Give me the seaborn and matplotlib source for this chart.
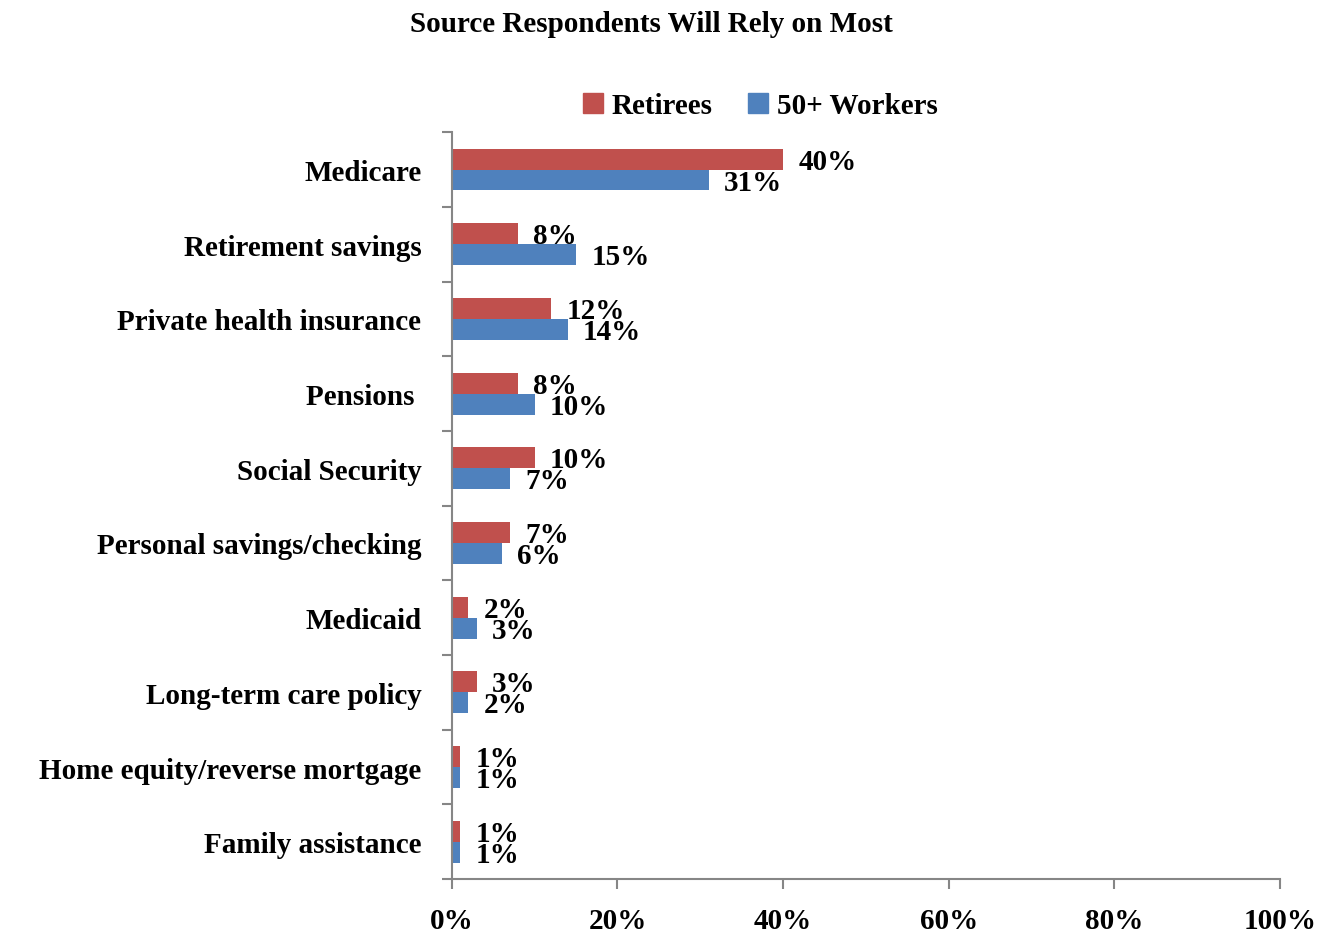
import matplotlib
matplotlib.use("Agg")
import matplotlib.pyplot as plt
import seaborn as sns
import pandas as pd
import numpy as np

categories = [
    "Medicare",
    "Retirement savings",
    "Private health insurance",
    "Pensions ",
    "Social Security",
    "Personal savings/checking",
    "Medicaid",
    "Long-term care policy",
    "Home equity/reverse mortgage",
    "Family assistance",
]
retirees = [40, 8, 12, 8, 10, 7, 2, 3, 1, 1]
workers = [31, 15, 14, 10, 7, 6, 3, 2, 1, 1]
series = ["Retirees", "50+ Workers"]
colors = ["#C0504D", "#4F81BD"]
xticks = [0, 20, 40, 60, 80, 100]

df = pd.DataFrame({
    "source": categories * 2,
    "group": [series[0]] * len(categories) + [series[1]] * len(categories),
    "pct": retirees + workers,
})

sns.set_theme(style="white")
plt.rcParams["font.family"] = ["Liberation Serif", "DejaVu Serif"]
plt.rcParams["font.weight"] = "bold"
plt.rcParams["text.color"] = "black"
plt.rcParams["xtick.color"] = "black"
plt.rcParams["ytick.color"] = "black"
FS = 21

fig = plt.figure(figsize=(13.29, 9.37), dpi=100)
ax = fig.add_axes([0.340, 0.0608, 0.623, 0.797])

sns.barplot(data=df, y="source", x="pct", hue="group", order=categories,
            hue_order=series, palette=colors, orient="h", width=0.56,
            ax=ax, legend=False, saturation=1, edgecolor="none")

# value labels just past each bar end
for container, vals in zip(ax.containers, [retirees, workers]):
    for bar, v in zip(container, vals):
        y = bar.get_y() + bar.get_height() / 2
        ax.annotate(f"{v}%", xy=(bar.get_width(), y), xytext=(11, -1.5),
                    textcoords="offset points", va="center", ha="left",
                    fontsize=FS, fontweight="bold", color="black")

ax.set_xlim(0, 100)
ax.set_ylim(len(categories) - 0.5, -0.5)
ax.set_xticks(xticks)
ax.set_xticklabels([f"{t}%" for t in xticks], fontsize=FS, fontweight="bold")
ax.set_yticks(range(len(categories)))
ax.set_yticklabels(categories, fontsize=FS, fontweight="bold")
ax.set_yticks(np.arange(-0.5, len(categories), 1.0), minor=True)
ax.tick_params(axis="y", which="major", length=0, pad=22, labelcolor="black")
ax.tick_params(axis="y", which="minor", length=7, width=1.5, color="#868686", left=True)
ax.tick_params(axis="x", which="major", length=7, width=1.5, color="#868686",
               bottom=True, pad=13, labelcolor="black")
ax.set_xlabel("")
ax.set_ylabel("")

for side in ["top", "right"]:
    ax.spines[side].set_visible(False)
for side in ["left", "bottom"]:
    ax.spines[side].set_color("#868686")
    ax.spines[side].set_linewidth(1.5)

handles = [plt.Rectangle((0, 0), 1, 1, color=c) for c in colors]
fig.legend(handles, series, loc="center", bbox_to_anchor=(0.572, 0.886),
           ncol=2, frameon=False, handlelength=0.7,
           handleheight=0.7, handletextpad=0.3, columnspacing=1.2,
           prop={"weight": "bold", "size": FS})

fig.suptitle("Source Respondents Will Rely on Most", x=0.49, y=0.988,
             fontsize=FS, fontweight="bold")

fig.savefig("out.png", dpi=100)
